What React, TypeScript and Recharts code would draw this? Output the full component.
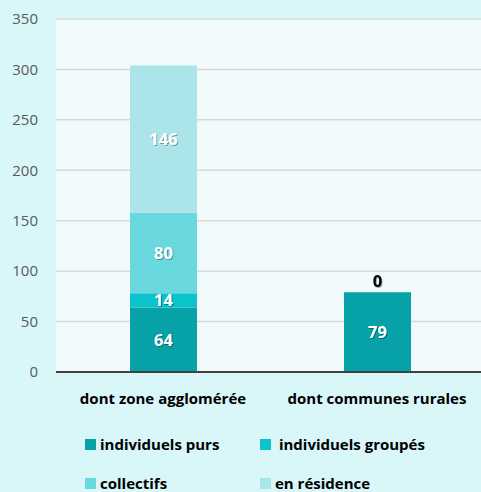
import { BarChart, Bar, XAxis, YAxis, CartesianGrid, Legend, LabelList } from "recharts";

const categories = ["dont zone agglomérée", "dont communes rurales"];
const individuelsPurs = [64, 79];
const individuelsGroupes = [14, 0];
const collectifs = [80, 0];
const enResidence = [146, 0];
const yTicks = [0, 50, 100, 150, 200, 250, 300, 350];

const series = [
  { key: "purs", name: "individuels purs", color: "#07a1a8" },
  { key: "groupes", name: " individuels groupés", color: "#0bc3cb" },
  { key: "collectifs", name: "collectifs", color: "#6ad9df" },
  { key: "residence", name: "en résidence", color: "#ace5e9" },
];

const data = categories.map((c, i) => ({
  name: c,
  purs: individuelsPurs[i],
  groupes: individuelsGroupes[i],
  collectifs: collectifs[i],
  residence: enResidence[i],
}));

const FONT = "'Open Sans', 'Noto Sans', sans-serif";

// white labels inside the segments, zero values are hidden
// eslint-disable-next-line @typescript-eslint/no-explicit-any
const InsideLabel = (props: any) => {
  const { x, y, width, height, value } = props;
  if (!value) return null;
  return (
    <text x={x + width / 2} y={y + height / 2} dy={6} textAnchor="middle" fill="#fff"
      fontFamily={FONT} fontWeight={700} fontSize={16.5} filter="url(#lblShadow)">
      {value}
    </text>
  );
};

// the "0" of en résidence sits on top of the rural bar
// eslint-disable-next-line @typescript-eslint/no-explicit-any
const TopZeroLabel = (props: any) => {
  const { x, y, width, index } = props;
  if (index !== 1) return null;
  const v = enResidence[index];
  return (
    <text x={x + width / 2} y={y - 5} textAnchor="middle" fill="#000"
      fontFamily={FONT} fontWeight={700} fontSize={16.5} filter="url(#lblShadow)">
      {v}
    </text>
  );
};

const LegendBox = () => (
  <div style={{ display: "grid", gridTemplateColumns: "175px 200px", rowGap: 19, fontFamily: FONT, fontWeight: 700, fontSize: 15, color: "#000" }}>
    {series.map((s) => (
      <div key={s.key} style={{ display: "flex", alignItems: "center", height: 20 }}>
        <span style={{ display: "inline-block", width: 11, height: 11, background: s.color, marginRight: 4 }} />
        <span style={{ whiteSpace: "pre" }}>{s.name}</span>
      </div>
    ))}
  </div>
);

export default function App() {
  return (
    <div style={{ position: "absolute", left: 0, top: 0, width: 481, height: 492, background: "#d9f6f9" }}>
      <svg width={0} height={0} style={{ position: "absolute" }}>
        <defs>
          <filter id="lblShadow" x="-20%" y="-20%" width="140%" height="140%">
            <feDropShadow dx={1} dy={1} stdDeviation={0.6} floodColor="#000" floodOpacity={0.35} />
          </filter>
        </defs>
      </svg>
      <BarChart width={481} height={492} data={data} margin={{ top: 19, right: -3, left: 0, bottom: 0 }}
        barSize={67}>
        <CartesianGrid vertical={false} stroke="#d9d9d9" strokeWidth={1.5} fill="#f2fbfc" />
        <XAxis dataKey="name" tickLine={false} axisLine={{ stroke: "#404040", strokeWidth: 2 }} height={61}
          tick={{ fontFamily: FONT, fontWeight: 700, fontSize: 15, fill: "#000" }} tickMargin={15} interval={0} />
        <YAxis domain={[0, 350]} ticks={yTicks} width={56} tickLine={false} axisLine={false} tickMargin={12}
          tick={{ fontFamily: FONT, fontSize: 15, fill: "#595959" }} />
        <Legend verticalAlign="bottom" content={<LegendBox />}
          wrapperStyle={{ position: "absolute", left: 85, top: 434, width: 400 }} />
        {series.map((s) => (
          <Bar key={s.key} dataKey={s.key} name={s.name} stackId="a" fill={s.color} isAnimationActive={false}>
            <LabelList dataKey={s.key} content={<InsideLabel />} />
            {s.key === "purs" && <LabelList dataKey={s.key} content={<TopZeroLabel />} />}
          </Bar>
        ))}
      </BarChart>
    </div>
  );
}
